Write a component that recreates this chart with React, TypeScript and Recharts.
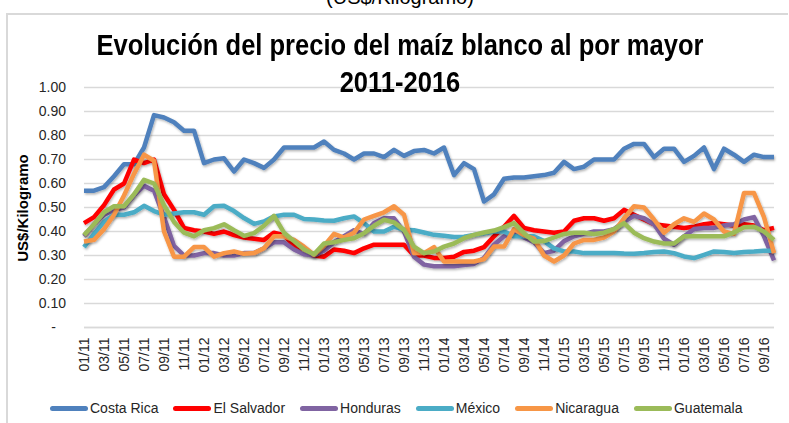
import React from 'react'
import { LineChart, Line, XAxis, YAxis, CartesianGrid } from 'recharts'

// periodos mensuales 01/11 .. 10/16
const years = ['11', '12', '13', '14', '15', '16']
const months = ['01', '02', '03', '04', '05', '06', '07', '08', '09', '10', '11', '12']
const periods = years.flatMap(y => months.map(m => `${m}/${y}`)).slice(0, 70)

const yTicks = [0, 0.1, 0.2, 0.3, 0.4, 0.5, 0.6, 0.7, 0.8, 0.9, 1]

const costaRica = [
  0.57, 0.57, 0.585, 0.63, 0.68, 0.68, 0.75, 0.885, 0.875, 0.855,
  0.82, 0.82, 0.685, 0.7, 0.705, 0.65, 0.7, 0.685, 0.665, 0.7,
  0.75, 0.75, 0.75, 0.75, 0.775, 0.74, 0.725, 0.7, 0.725, 0.725,
  0.71, 0.74, 0.715, 0.735, 0.74, 0.725, 0.75, 0.635, 0.685, 0.66,
  0.525, 0.555, 0.62, 0.625, 0.625, 0.63, 0.635, 0.645, 0.69, 0.66,
  0.67, 0.7, 0.7, 0.7, 0.745, 0.765, 0.765, 0.71, 0.745, 0.745,
  0.69, 0.715, 0.75, 0.66, 0.745, 0.72, 0.69, 0.72, 0.71, 0.71
]
const elSalvador = [
  0.435, 0.46, 0.51, 0.575, 0.6, 0.7, 0.685, 0.7, 0.555, 0.49,
  0.415, 0.405, 0.4, 0.39, 0.4, 0.385, 0.375, 0.37, 0.365, 0.395,
  0.385, 0.34, 0.31, 0.3, 0.295, 0.325, 0.32, 0.31, 0.33, 0.345,
  0.345, 0.345, 0.345, 0.3, 0.3, 0.29, 0.29, 0.295, 0.315, 0.32,
  0.335, 0.38, 0.42, 0.465, 0.415, 0.405, 0.4, 0.395, 0.4, 0.445,
  0.455, 0.455, 0.445, 0.455, 0.49, 0.47, 0.45, 0.43, 0.425, 0.42,
  0.415, 0.42, 0.43, 0.435, 0.43, 0.425, 0.43, 0.425, 0.405, 0.415
]
const honduras = [
  0.38, 0.43, 0.47, 0.49, 0.5, 0.55, 0.59, 0.57, 0.46, 0.34,
  0.3, 0.3, 0.31, 0.31, 0.3, 0.3, 0.31, 0.31, 0.33, 0.355,
  0.355, 0.325, 0.305, 0.3, 0.32, 0.355, 0.38, 0.405, 0.39, 0.435,
  0.455, 0.455, 0.4, 0.295, 0.262, 0.255, 0.255, 0.255, 0.26, 0.265,
  0.29, 0.345, 0.38, 0.395, 0.375, 0.355, 0.31, 0.32, 0.36, 0.38,
  0.39, 0.4, 0.4, 0.41, 0.44, 0.465, 0.455, 0.43, 0.37, 0.345,
  0.38, 0.41, 0.415, 0.415, 0.425, 0.43, 0.45, 0.46, 0.38, 0.28
]
const mexico = [
  0.335, 0.39, 0.44, 0.47, 0.47, 0.48, 0.507, 0.485, 0.47, 0.475,
  0.48, 0.48, 0.47, 0.505, 0.507, 0.485, 0.456, 0.432, 0.442, 0.463,
  0.47, 0.47, 0.452, 0.45, 0.446, 0.445, 0.455, 0.463, 0.435, 0.4,
  0.4, 0.42, 0.407, 0.405, 0.396, 0.386, 0.382, 0.377, 0.378, 0.386,
  0.393, 0.4, 0.4, 0.38, 0.38, 0.38, 0.36, 0.33, 0.317, 0.317,
  0.31, 0.31, 0.31, 0.31, 0.308, 0.307, 0.31, 0.315, 0.317, 0.31,
  0.296, 0.289, 0.303, 0.317, 0.315, 0.31, 0.315, 0.317, 0.32, 0.32
]
const nicaragua = [
  0.358, 0.365, 0.41, 0.47, 0.55, 0.64, 0.72, 0.695, 0.4, 0.295,
  0.295, 0.335, 0.335, 0.295, 0.31, 0.317, 0.307, 0.31, 0.33, 0.38,
  0.38, 0.365, 0.337, 0.303, 0.34, 0.39, 0.375, 0.395, 0.45, 0.465,
  0.48, 0.505, 0.47, 0.31, 0.31, 0.335, 0.275, 0.275, 0.275, 0.275,
  0.285, 0.337, 0.337, 0.41, 0.385, 0.37, 0.3, 0.275, 0.3, 0.35,
  0.365, 0.365, 0.375, 0.4, 0.455, 0.505, 0.5, 0.45, 0.395, 0.43,
  0.455, 0.44, 0.475, 0.45, 0.4, 0.39, 0.56, 0.56, 0.46, 0.31
]
const guatemala = [
  0.385, 0.43, 0.48, 0.505, 0.505, 0.555, 0.615, 0.6, 0.51, 0.44,
  0.395, 0.38, 0.405, 0.414, 0.43, 0.405, 0.382, 0.393, 0.424, 0.465,
  0.395, 0.36, 0.325, 0.305, 0.35, 0.355, 0.365, 0.372, 0.393, 0.424,
  0.449, 0.438, 0.407, 0.337, 0.31, 0.317, 0.337, 0.35, 0.372, 0.386,
  0.396, 0.404, 0.418, 0.435, 0.393, 0.358, 0.36, 0.375, 0.39, 0.395,
  0.395, 0.39, 0.395, 0.41, 0.435, 0.395, 0.372, 0.358, 0.35, 0.35,
  0.38, 0.38, 0.38, 0.38, 0.38, 0.396, 0.418, 0.42, 0.4, 0.365
]

const series = [
  { key: 'costaRica', name: 'Costa Rica', color: '#4F81BD', values: costaRica },
  { key: 'elSalvador', name: 'El Salvador', color: '#FF0000', values: elSalvador },
  { key: 'honduras', name: 'Honduras', color: '#8064A2', values: honduras },
  { key: 'mexico', name: 'México', color: '#4BACC6', values: mexico },
  { key: 'nicaragua', name: 'Nicaragua', color: '#F79646', values: nicaragua },
  { key: 'guatemala', name: 'Guatemala', color: '#9BBB59', values: guatemala }
]

const data = periods.map((period, i) => {
  const row: any = { period }
  series.forEach(s => { row[s.key] = s.values[i] })
  return row
})

const FONT = '"Liberation Sans", Arial, sans-serif'

function YTick({ x, y, payload }: any) {
  const v = payload.value
  return (
    <text x={v === 0 ? x - 10 : x} y={y} dy="0.35em" textAnchor="end" fontSize={14} fill="#262626" fontFamily={FONT}>
      {v === 0 ? '-' : v.toFixed(2)}
    </text>
  )
}

function XTick({ x, y, payload }: any) {
  return (
    <text
      x={x}
      y={y}
      dy="0.35em"
      transform={`rotate(-90 ${x} ${y})`}
      textAnchor="end"
      fontSize={14}
      fill="#262626"
      fontFamily={FONT}
    >
      {payload.value}
    </text>
  )
}

export default function App() {
  return (
    <div style={{ position: 'absolute', left: 0, top: 0, width: 789, height: 423, overflow: 'hidden', background: '#fff' }}>
      {/* marco del gráfico */}
      <div style={{ position: 'absolute', left: 6, top: 13, width: 780, height: 420, borderLeft: '2px solid #D9D9D9', borderTop: '2px solid #D9D9D9' }} />

      {/* subtítulo cortado arriba */}
      <div style={{ position: 'absolute', left: 0, width: 800, top: -14, textAlign: 'center', fontFamily: FONT, fontSize: 20, color: '#000' }}>
        (US$/Kilogramo)
      </div>

      <div style={{
        position: 'absolute', left: 22, top: 208, transform: 'translate(-50%, -50%) rotate(-90deg)',
        fontFamily: FONT, fontWeight: 'bold', fontSize: 15, whiteSpace: 'nowrap', color: '#000'
      }}>
        US$/Kilogramo
      </div>

      <div style={{ position: 'absolute', left: 0, top: 0 }}>
        <LineChart width={789} height={423} data={data} margin={{ top: 87.5, right: 15, bottom: 45.5, left: 0 }}>
          <defs>
            <filter id="lineShadow" x="-5%" y="-5%" width="110%" height="120%">
              <feDropShadow dx="1" dy="1.5" stdDeviation="1" floodColor="#000" floodOpacity="0.3" />
            </filter>
          </defs>
          <CartesianGrid vertical={false} stroke="#D9D9D9" strokeWidth={1.3} />
          <XAxis
            dataKey="period"
            height={50}
            interval={1}
            tickLine={false}
            axisLine={{ stroke: '#D9D9D9', strokeWidth: 1.3 }}
            tick={<XTick />}
            tickMargin={4}
          />
          <YAxis
            width={84}
            domain={[0, 1]}
            ticks={yTicks}
            axisLine={false}
            tickLine={false}
            tickMargin={12}
            tick={<YTick />}
          />
          {series.map(s => (
            <Line
              key={s.key}
              type="linear"
              dataKey={s.key}
              name={s.name}
              stroke={s.color}
              strokeWidth={4.5}
              strokeLinejoin="round"
              dot={false}
              filter="url(#lineShadow)"
              isAnimationActive={false}
            />
          ))}
        </LineChart>
      </div>

      {/* título, encima de la cuadrícula */}
      <div style={{
        position: 'absolute', left: 0, width: 800, top: 27, textAlign: 'center', fontFamily: FONT,
        fontWeight: 'bold', fontSize: 29, lineHeight: '37px', color: '#000',
        transform: 'scaleX(0.88)', transformOrigin: '400px 0', zIndex: 2
      }}>
        Evolución del precio del maíz blanco al por mayor<br />2011-2016
      </div>

      {/* leyenda */}
      <div style={{ position: 'absolute', left: 50, top: 400, display: 'flex', alignItems: 'center', fontFamily: FONT, fontSize: 14, color: '#262626' }}>
        {series.map(s => (
          <div key={s.key} style={{ display: 'flex', alignItems: 'center', marginRight: 15 }}>
            <div style={{ width: 38, height: 5, borderRadius: 3, background: s.color, marginRight: 2 }} />
            <span>{s.name}</span>
          </div>
        ))}
      </div>
    </div>
  )
}
